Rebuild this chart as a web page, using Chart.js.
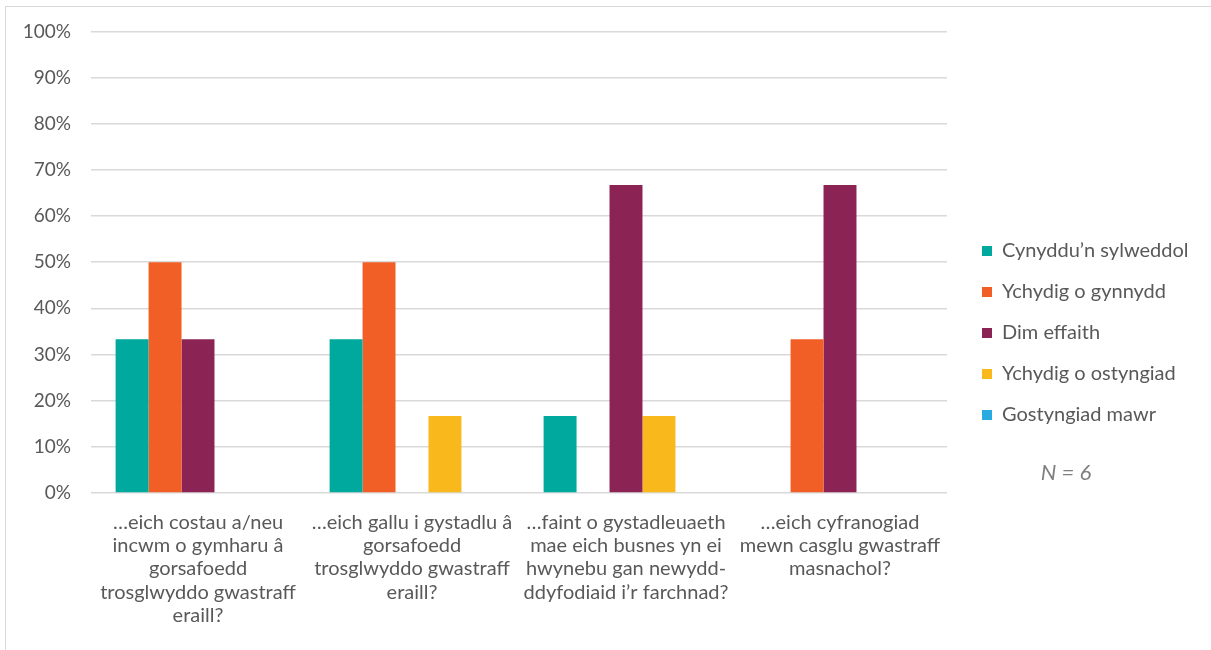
<!DOCTYPE html>
<html>
<head>
<meta charset="utf-8">
<script src="https://cdn.jsdelivr.net/npm/chart.js@4/dist/chart.umd.min.js"></script>
<style>
  html, body { margin: 0; padding: 0; background: #fff; overflow: hidden; }
  #frame { position: absolute; left: 5px; top: 6px; width: 1230px; height: 670px; border: 1px solid #d9d9d9; }
  #wrap { position: absolute; left: 0; top: 0; width: 1211px; height: 650px; }
</style>
</head>
<body>
<div id="frame"></div>
<div id="wrap"><canvas id="chart" width="1211" height="650"></canvas></div>
<script>
// Categorïau (labeli echelin x, wedi'u torri'n llinellau)
const categories = [
  ['…eich costau a/neu', 'incwm o gymharu â', 'gorsafoedd', 'trosglwyddo gwastraff', 'eraill?'],
  ['…eich gallu i gystadlu â', 'gorsafoedd', 'trosglwyddo gwastraff', 'eraill?'],
  ['…faint o gystadleuaeth', 'mae eich busnes yn ei', 'hwynebu gan newydd-', 'ddyfodiaid i’r farchnad?'],
  ['…eich cyfranogiad', 'mewn casglu gwastraff', 'masnachol?']
];

const seriesNames = ['Cynyddu’n sylweddol', 'Ychydig o gynnydd', 'Dim effaith', 'Ychydig o ostyngiad', 'Gostyngiad mawr'];
const seriesColors = ['#00A99D', '#F15F26', '#8B2455', '#F9B81B', '#29ABE2'];

// Gwerthoedd (%)
const cynydduSylweddol = [33.3, 33.3, 16.7, 0];
const ychydigGynnydd   = [50, 50, 0, 33.3];
const dimEffaith       = [33.3, 0, 66.7, 66.7];
const ychydigOstyngiad = [0, 16.7, 16.7, 0];
const gostyngiadMawr   = [0, 0, 0, 0];

const yTicks = [0, 10, 20, 30, 40, 50, 60, 70, 80, 90, 100];
const noteText = 'N = 6';

const allSeries = [cynydduSylweddol, ychydigGynnydd, dimEffaith, ychydigOstyngiad, gostyngiadMawr];
const fontFamily = 'Lato, "Open Sans", sans-serif';
const textColor = '#595959';

// Lled sefydlog i'r allwedd, fel bod yr ardal plotio'n gorffen yn yr un lle
const legendWidthPlugin = {
  id: 'legendWidth',
  beforeUpdate(chart) {
    const lg = chart.legend;
    if (lg && !lg._fixedFit) {
      const orig = lg.fit;
      lg.fit = function () { orig.call(this); this.width = 264; };
      lg._fixedFit = true;
    }
  },
  afterLayout(chart) {
    // symud yr allwedd ychydig i'r dde ac i fyny
    const lg = chart.legend;
    lg.left += 14; lg.right += 14;
    lg.top -= 4; lg.bottom -= 4;
  }
};

// Ysgrifennu "N = 6" o dan yr allwedd
const notePlugin = {
  id: 'note',
  afterDraw(chart) {
    const ctx = chart.ctx;
    ctx.save();
    ctx.font = 'italic 22px ' + fontFamily;
    ctx.fillStyle = '#7f7f7f';
    ctx.textAlign = 'center';
    ctx.textBaseline = 'middle';
    ctx.fillText(noteText, 1066, 473);
    ctx.restore();
  }
};

new Chart(document.getElementById('chart'), {
  type: 'bar',
  data: {
    labels: categories,
    datasets: allSeries.map((vals, i) => ({
      label: seriesNames[i],
      data: vals,
      backgroundColor: seriesColors[i],
      borderWidth: 0,
      categoryPercentage: 0.77,
      barPercentage: 1
    }))
  },
  options: {
    responsive: false,
    animation: false,
    layout: { padding: { left: 6, top: 24, right: 0, bottom: 0 } },
    plugins: {
      tooltip: { enabled: false },
      legend: {
        position: 'right',
        labels: {
          boxWidth: 10,
          boxHeight: 10,
          padding: 21,
          color: textColor,
          font: { family: fontFamily, size: 20 }
        }
      }
    },
    scales: {
      x: {
        grid: { display: false, drawTicks: false },
        border: { display: false },
        ticks: {
          color: textColor,
          font: { family: fontFamily, size: 20, lineHeight: 1.16 },
          maxRotation: 0,
          autoSkip: false,
          padding: 18
        },
        afterFit(scale) { scale.height = 157; }
      },
      y: {
        min: 0,
        max: 100,
        afterBuildTicks(scale) { scale.ticks = yTicks.map(v => ({ value: v })); },
        grid: { color: '#d9d9d9', lineWidth: 1.5, drawTicks: false },
        border: { display: false },
        ticks: {
          color: textColor,
          font: { family: fontFamily, size: 19 },
          padding: 20,
          callback: v => v + '%'
        },
        afterFit(scale) { scale.width = 85; }
      }
    }
  },
  plugins: [legendWidthPlugin, notePlugin]
});
</script>
</body>
</html>
